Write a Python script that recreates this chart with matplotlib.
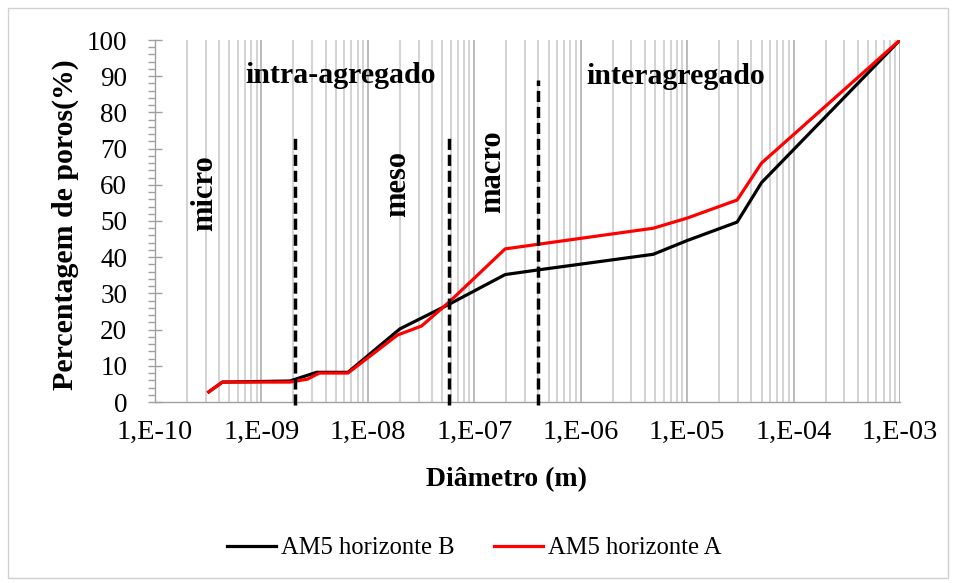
import math
import matplotlib
matplotlib.use("Agg")
import matplotlib.pyplot as plt
from matplotlib.ticker import LogLocator, MultipleLocator, FuncFormatter
from matplotlib.patches import Rectangle

# Data
diam_B = [3.2e-10, 4.3e-10, 1.85e-9, 3.3e-9, 6.5e-9, 2.0e-8, 5.8e-8, 1.95e-7, 4.0e-7, 4.8e-6, 1.0e-5, 2.95e-5, 5.0e-5, 1.0e-3]
pct_B  = [2.8,     5.5,     5.8,     8.2,    8.2,    20.2,   27.0,   35.2,    36.5,   40.8,   44.6,   49.7,    60.6,   100.0]
diam_A = [3.2e-10, 4.3e-10, 1.85e-9, 2.7e-9, 3.5e-9, 6.5e-9, 1.9e-8, 3.2e-8, 5.8e-8, 1.95e-7, 4.8e-6, 1.0e-5, 2.95e-5, 5.0e-5, 1.0e-3]
pct_A  = [2.8,     5.5,     5.5,     6.3,    8.0,    8.0,    18.5,   21.0,   27.6,   42.3,    48.0,   50.8,   55.8,    66.0,   100.0]
label_B = "AM5 horizonte B"
label_A = "AM5 horizonte A"

dash_x = [2.07e-9, 5.8e-8, 4.0e-7]
dash_top = [74, 73, 89]

region_labels = ["micro", "meso", "macro"]
region_x = [2.95e-10, 1.92e-8, 1.5e-7]
region_y = [57.7, 60.2, 63.5]
zone_labels = ["intra-agregado", "interagregado"]
zone_x = [5.5e-9, 7.9e-6]
zone_y = [90.3, 90]

serif = ["Liberation Serif", "DejaVu Serif"]
plt.rcParams['font.family'] = serif

fig = plt.figure(figsize=(9.58, 5.83), dpi=100)
W, H = 958, 583
ax = fig.add_axes([155 / W, 1 - 402 / H, (900 - 155) / W, (402 - 40) / H])

# outer border
fig.patches.append(Rectangle((8 / W, 5 / H), 940 / W, 570 / H, transform=fig.transFigure,
                             fill=False, edgecolor="#d0d0d0", linewidth=1))

ax.set_xscale("log")
ax.set_xlim(1e-10, 1e-3)
ax.set_ylim(0, 100)

# vertical grid on all log ticks
ax.xaxis.set_major_locator(LogLocator(base=10, numticks=20))
ax.xaxis.set_minor_locator(LogLocator(base=10, subs=range(2, 10), numticks=100))
ax.grid(True, which="major", axis="x", color="#a8a8a8", linewidth=1.1)
ax.grid(True, which="minor", axis="x", color="#c8c8c8", linewidth=1.1)
ax.grid(False, axis="y")
ax.set_axisbelow(True)

ax.xaxis.set_major_formatter(FuncFormatter(lambda v, p: "1,E-%02d" % round(-math.log10(v))))
ax.tick_params(axis="x", which="both", length=0, labelsize=20.5, pad=13)

ax.yaxis.set_major_locator(MultipleLocator(10))
ax.yaxis.set_minor_locator(MultipleLocator(2))
ax.tick_params(axis="y", which="major", direction="inout", length=10, width=1, color="#a0a0a0", labelsize=19.5, pad=15)
ax.tick_params(axis="y", which="minor", direction="out", length=5, width=1, color="#a0a0a0")

for s in ["top", "right"]:
    ax.spines[s].set_visible(False)
for s in ["left", "bottom"]:
    ax.spines[s].set_color("#a0a0a0")
    ax.spines[s].set_linewidth(1)

lb, = ax.plot(diam_B, pct_B, color="black", linewidth=2.3, label=label_B, zorder=3)
la, = ax.plot(diam_A, pct_A, color="#ff0000", linewidth=2.3, label=label_A, zorder=4)

for xv, top in zip(dash_x, dash_top):
    ax.plot([xv, xv], [-0.8, top], color="black", linestyle=(0, (3.2, 1.4)), linewidth=2.5, zorder=5, clip_on=False)

for t, xv, yv in zip(region_labels, region_x, region_y):
    ax.text(xv, yv, t, rotation=90, ha="center", va="center", fontsize=22, fontweight="bold")
for t, xv, yv in zip(zone_labels, zone_x, zone_y):
    ax.text(xv, yv, t, ha="center", va="center", fontsize=21.5, fontweight="bold")

fig.text(506 / W, 1 - 480 / H, "Diâmetro (m)", ha="center", va="center", fontsize=20, fontweight="bold")
fig.text(65 / W, 1 - 225 / H, "Percentagem de poros(%)", ha="center", va="center", rotation=90,
         fontsize=21.5, fontweight="bold")

fig.legend(handles=[lb, la], loc="center", bbox_to_anchor=(474 / W, 1 - 548 / H), ncol=2,
           frameon=False, fontsize=17.7, handlelength=2.0, columnspacing=1.6, handletextpad=0.2)

fig.savefig("out.png", dpi=100)
